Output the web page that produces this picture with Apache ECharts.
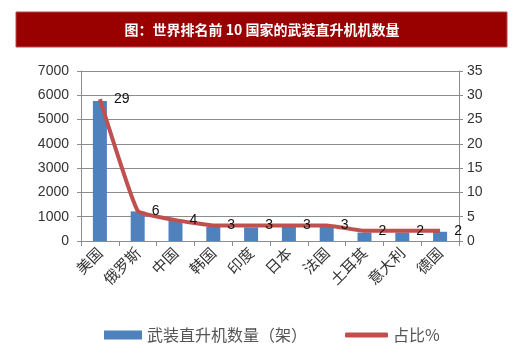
<!DOCTYPE html>
<html lang="zh-CN" style="height: 100%">
<head>
    <meta charset="utf-8">
</head>
<body style="height: 100%; margin: 0; background: #fff">
<div id="container" style="width: 520px; height: 354px"></div>

<script type="text/javascript" src="https://fastly.jsdelivr.net/npm/echarts@6/dist/echarts.min.js"></script>
<script type="text/javascript">
    var dom = document.getElementById('container');
    var myChart = echarts.init(dom, null, { renderer: 'canvas' });

    // 数据
    const countries = ['美国', '俄罗斯', '中国', '韩国', '印度', '日本', '法国', '土耳其', '意大利', '德国'];
    const helicopters = [5760, 1220, 850, 590, 560, 590, 590, 350, 350, 380];
    const sharePct = [29.2, 6.2, 4.3, 3.2, 3.2, 3.2, 3.2, 2.1, 2.1, 2.1];
    const leftTicks = { min: 0, max: 7000, interval: 1000 };
    const rightTicks = { min: 0, max: 35, interval: 5 };

    const font = "'Liberation Sans', 'Noto Sans CJK SC', sans-serif";
    const cjk = "'Noto Sans CJK SC', sans-serif";
    const gray = '#8c8c8c';

    var option = {
        animation: false,
        textStyle: { fontFamily: font },
        graphic: [
            {
                type: 'rect',
                shape: { x: 16, y: 12, width: 491, height: 35 },
                style: { fill: '#990000', stroke: '#b84a4a', lineWidth: 1 }
            },
            {
                type: 'text',
                x: 262,
                y: 30,
                style: {
                    text: '图：世界排名前 10 国家的武装直升机机数量',
                    fill: '#fff',
                    font: 'bold 14px ' + cjk,
                    textAlign: 'center',
                    textVerticalAlign: 'middle'
                }
            }
        ],
        grid: { left: 81, right: 61, top: 71, bottom: 113 },
        legend: [
            {
                data: ['武装直升机数量（架）'],
                left: 99,
                top: 322,
                icon: 'rect',
                itemWidth: 38,
                itemHeight: 9,
                itemGap: 6,
                textStyle: { fontFamily: cjk, fontSize: 16, color: '#555' }
            },
            {
                data: ['占比%'],
                left: 340,
                top: 322,
                icon: 'roundRect',
                itemWidth: 43,
                itemHeight: 5,
                itemGap: 6,
                textStyle: { fontFamily: cjk, fontSize: 16, color: '#555' }
            }
        ],
        xAxis: {
            type: 'category',
            data: countries,
            axisLine: { lineStyle: { color: gray } },
            axisTick: { show: true, length: 5, lineStyle: { color: gray } },
            axisLabel: {
                rotate: 45,
                margin: 9,
                interval: 0,
                fontFamily: cjk,
                fontSize: 15,
                color: '#333'
            }
        },
        yAxis: [
            {
                type: 'value',
                min: leftTicks.min,
                max: leftTicks.max,
                interval: leftTicks.interval,
                axisLine: { show: true, lineStyle: { color: gray } },
                axisTick: { show: true, length: 4, lineStyle: { color: gray } },
                splitLine: { lineStyle: { color: gray, width: 1 } },
                axisLabel: { margin: 12, fontSize: 14, color: '#333', formatter: function (v) { return String(v); } }
            },
            {
                type: 'value',
                min: rightTicks.min,
                max: rightTicks.max,
                interval: rightTicks.interval,
                axisLine: { show: true, lineStyle: { color: gray } },
                axisTick: { show: true, length: 4, lineStyle: { color: gray } },
                splitLine: { show: false },
                axisLabel: { margin: 8, fontSize: 14, color: '#333' }
            }
        ],
        series: [
            {
                name: '武装直升机数量（架）',
                type: 'bar',
                data: helicopters,
                barWidth: 14,
                itemStyle: { color: '#4f81bd' }
            },
            {
                name: '占比%',
                type: 'line',
                yAxisIndex: 1,
                data: sharePct,
                smooth: 0.1,
                symbol: 'circle',
                symbolSize: 0.1,
                showSymbol: true,
                itemStyle: { color: '#c0504d' },
                lineStyle: { color: '#c0504d', width: 4 },
                label: {
                    show: true,
                    position: 'right',
                    distance: 14,
                    fontSize: 14,
                    color: '#111',
                    formatter: function (p) { return Math.round(p.value); }
                },
                labelLayout: { hideOverlap: false },
                z: 5
            }
        ]
    };

    myChart.setOption(option);
    window.addEventListener('resize', myChart.resize);
</script>
</body>
</html>
